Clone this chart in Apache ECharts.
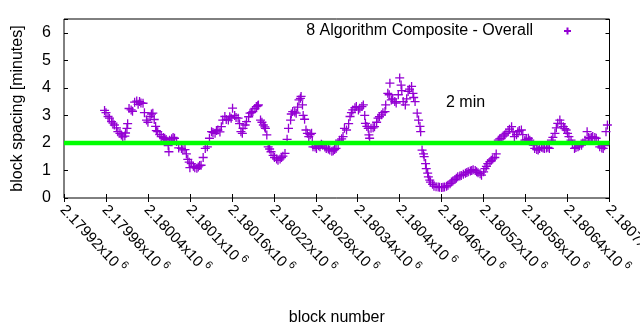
<!DOCTYPE html>
<html>
<head>
<meta charset="utf-8">
<script src="https://cdn.jsdelivr.net/npm/echarts@6/dist/echarts.min.js"></script>
<style>
html,body{margin:0;padding:0;background:#fff;}
#chart{width:640px;height:330px;}
</style>
</head>
<body>
<div id="chart"></div>
<script>
// ---- data ----
const seriesName = '8 Algorithm Composite - Overall';
const blocks = [
2179978,2179980,2179983,2179985,2179988,2179990,2179992,2179995,2179997,2180000,
2180002,2180004,2180007,2180008,2180010,2180011,2180013,2180016,2180018,2180021,
2180024,2180026,2180028,2180030,2180033,2180035,2180038,2180040,2180043,2180045,
2180047,2180049,2180051,2180052,2180054,2180057,2180059,2180062,2180064,2180066,
2180069,2180070,2180071,2180074,2180076,2180078,2180081,2180084,2180088,2180090,
2180093,2180095,2180097,2180099,2180100,2180102,2180105,2180107,2180110,2180112,
2180114,2180116,2180119,2180122,2180125,2180128,2180131,2180133,2180136,2180138,
2180140,2180143,2180145,2180147,2180150,2180152,2180155,2180157,2180159,2180161,
2180164,2180166,2180169,2180171,2180173,2180175,2180176,2180179,2180181,2180184,
2180186,2180188,2180190,2180193,2180195,2180197,2180198,2180201,2180203,2180205,
2180207,2180208,2180210,2180212,2180214,2180216,2180219,2180221,2180224,2180226,
2180229,2180231,2180233,2180236,2180239,2180241,2180244,2180245,2180247,2180250,
2180252,2180254,2180256,2180258,2180259,2180261,2180262,2180264,2180266,2180268,
2180270,2180272,2180274,2180275,2180276,2180279,2180281,2180284,2180286,2180288,
2180290,2180293,2180295,2180298,2180300,2180303,2180305,2180307,2180309,2180312,
2180314,2180317,2180319,2180321,2180324,2180327,2180329,2180331,2180333,2180336,
2180338,2180341,2180343,2180346,2180348,2180350,2180351,2180353,2180355,2180356,
2180357,2180359,2180362,2180364,2180367,2180369,2180371,2180374,2180376,2180379,
2180380,2180383,2180385,2180386,2180388,2180390,2180393,2180395,2180398,2180400,
2180402,2180403,2180405,2180408,2180410,2180412,2180414,2180417,2180419,2180420,
2180422,2180425,2180427,2180429,2180430,2180432,2180434,2180435,2180437,2180438,
2180440,2180441,2180443,2180444,2180447,2180449,2180452,2180455,2180457,2180460,
2180462,2180464,2180467,2180469,2180472,2180474,2180476,2180479,2180481,2180483,
2180486,2180488,2180491,2180494,2180496,2180498,2180501,2180503,2180505,2180508,
2180510,2180512,2180515,2180517,2180520,2180522,2180524,2180526,2180529,2180531,
2180533,2180536,2180538,2180541,2180543,2180545,2180548,2180550,2180552,2180555,
2180557,2180560,2180562,2180564,2180567,2180569,2180571,2180574,2180576,2180579,
2180581,2180584,2180586,2180588,2180591,2180593,2180596,2180598,2180600,2180603,
2180605,2180607,2180610,2180612,2180614,2180617,2180619,2180622,2180624,2180626,
2180629,2180631,2180634,2180636,2180638,2180640,2180642,2180645,2180647,2180650,
2180652,2180655,2180657,2180660,2180662,2180665,2180668,2180670,2180672,2180674,
2180676,2180679,2180681,2180684,2180686,2180689,2180691,2180693,2180695,2180697
];
const spacing = [
3.18,3.10,2.96,2.90,2.77,2.72,2.65,2.55,2.41,2.35,
2.29,2.22,2.25,2.36,2.53,2.70,3.25,3.20,3.15,3.48,
3.52,3.40,3.50,3.45,3.44,3.10,2.83,2.75,2.96,3.05,
3.08,2.85,2.60,2.45,2.41,2.30,2.23,2.20,2.17,2.12,
1.90,1.68,2.10,2.15,2.20,2.17,2.05,1.82,1.80,1.75,
1.76,1.60,1.40,1.30,1.10,1.25,1.15,1.10,1.08,1.13,
1.18,1.19,1.47,1.80,1.86,2.17,2.41,2.38,2.35,2.45,
2.47,2.40,2.59,2.83,2.96,2.85,2.83,2.95,2.90,3.26,
3.00,2.92,2.90,2.70,2.41,2.35,2.53,2.65,2.77,2.95,
3.08,3.10,3.14,3.25,3.32,3.35,3.38,2.83,2.75,2.65,
2.58,2.53,2.29,1.86,1.78,1.68,1.55,1.47,1.42,1.37,
1.42,1.47,1.52,1.62,2.13,2.53,2.83,3.05,3.14,3.12,
3.08,3.30,3.56,3.62,3.69,3.38,3.00,2.86,2.47,2.35,
2.23,2.30,2.35,2.05,1.86,1.85,1.80,1.90,1.86,1.95,
1.92,1.85,1.80,1.78,1.74,1.70,1.72,1.76,1.80,1.95,
2.10,2.15,2.23,2.53,2.47,2.70,2.96,3.10,3.20,3.28,
3.32,3.20,3.26,3.32,3.38,3.00,2.71,2.60,2.53,2.29,
2.17,2.53,2.55,2.59,2.75,2.90,2.95,3.02,3.10,3.14,
3.38,3.80,3.75,4.17,3.56,3.60,3.50,3.45,3.75,4.36,
4.10,3.90,3.50,3.38,3.60,3.87,3.95,4.05,3.80,3.65,
3.50,3.08,2.83,2.60,2.41,1.74,1.60,1.50,1.25,1.07,
0.90,0.77,0.65,0.58,0.50,0.43,0.41,0.40,0.39,0.38,
0.39,0.40,0.43,0.46,0.52,0.58,0.62,0.67,0.72,0.77,
0.80,0.82,0.86,0.90,0.93,0.95,0.98,1.00,1.03,1.00,
0.95,0.92,0.88,0.83,0.95,1.07,1.15,1.25,1.32,1.37,
1.42,1.47,1.60,2.10,2.15,2.17,2.25,2.29,2.35,2.41,
2.50,2.59,2.40,2.23,2.30,2.41,2.45,2.47,2.30,2.10,
2.12,2.17,2.10,2.05,1.92,1.80,1.76,1.74,1.80,1.84,
1.82,1.80,1.82,1.84,1.80,2.10,2.20,2.35,2.55,2.71,
2.83,2.70,2.59,2.52,2.47,2.35,2.23,2.10,1.95,1.80,
1.83,1.86,1.90,1.92,2.00,2.10,2.41,2.20,2.17,2.20,
2.23,2.20,2.17,2.00,1.86,1.82,1.80,1.90,2.41,2.65
];
const refBlocks = [2179920, 2180700];
const refSpacing = [2, 2];
const refLabel = '2 min';
const xMin = 2179920, xMax = 2180700, xStep = 60;
const yMin = 0, yMax = 6.5, yStep = 1;
const xTitle = 'block number';
const yTitle = 'block spacing [minutes]';

// ---- chart ----
const FONT = 'Liberation Sans';
const plus = 'path://M0,5L10,5M5,0L5,10';
const chart = echarts.init(document.getElementById('chart'), null, {renderer: 'canvas'});
const pts = blocks.map((b, i) => [b, spacing[i]]);
const refPts = refBlocks.map((b, i) => [b, refSpacing[i]]);

const gridL = 64, gridT = 19, gridW = 545.5, gridH = 179;

chart.setOption({
  animation: false,
  backgroundColor: '#fff',
  textStyle: {fontFamily: FONT, color: '#000'},
  grid: {left: gridL, top: gridT, width: gridW, height: gridH, show: true,
         containLabel: false, outerBoundsMode: 'none',
         borderColor: '#000', borderWidth: 1, backgroundColor: 'transparent'},
  legend: {
    data: [{name: seriesName, icon: plus}],
    right: 68, top: 23, padding: 0, align: 'right',
    itemWidth: 59, itemHeight: 7,
    textStyle: {fontFamily: FONT, fontSize: 16, color: '#000'},
    selectedMode: false
  },
  graphic: [{
    type: 'text', left: 446, top: 95,
    style: {text: refLabel, font: '16px "Liberation Sans"', fill: '#000'}
  }],
  xAxis: [{
    type: 'value', min: xMin, max: xMax, interval: xStep,
    name: xTitle, nameLocation: 'middle', nameGap: 112,
    nameTextStyle: {fontFamily: FONT, fontSize: 16, color: '#000'},
    axisLine: {show: false},
    axisTick: {inside: true, length: 4, lineStyle: {color: '#000'}},
    splitLine: {show: false},
    axisLabel: {
      rotate: -47, margin: 8, color: '#000', hideOverlap: false,
      showMinLabel: true, showMaxLabel: true,
      formatter: v => '{a|' + parseFloat((v / 1e6).toFixed(5)) + 'x10}{s|6}',
      rich: {
        a: {fontFamily: FONT, fontSize: 15, color: '#000', lineHeight: 19, verticalAlign: 'bottom'},
        s: {fontFamily: FONT, fontSize: 11, color: '#000', verticalAlign: 'top', padding: [0, 0, 0, 3]}
      }
    }
  }, {
    type: 'value', position: 'top', min: xMin, max: xMax, interval: xStep,
    axisLine: {show: false}, axisLabel: {show: false}, splitLine: {show: false},
    axisTick: {inside: true, length: 4, lineStyle: {color: '#000'}}
  }],
  yAxis: [{
    type: 'value', min: yMin, max: yMax, interval: yStep,
    name: yTitle, nameLocation: 'middle', nameGap: 38,
    nameTextStyle: {fontFamily: FONT, fontSize: 16, color: '#000'},
    axisLine: {show: false},
    axisTick: {inside: true, length: 4, lineStyle: {color: '#000'}},
    splitLine: {show: false},
    axisLabel: {margin: 13, fontFamily: FONT, fontSize: 16, color: '#000',
                formatter: v => Number.isInteger(v) ? String(v) : ''}
  }, {
    type: 'value', position: 'right', min: yMin, max: yMax, interval: yStep,
    axisLine: {show: false}, axisLabel: {show: false}, splitLine: {show: false},
    axisTick: {inside: true, length: 4, lineStyle: {color: '#000'}}
  }],
  series: [{
    name: seriesName, type: 'scatter', data: pts,
    symbol: plus, symbolSize: 9,
    itemStyle: {color: 'rgba(0,0,0,0)', borderColor: '#9400d3', borderWidth: 1.3, opacity: 1},
    emphasis: {disabled: true}, z: 2
  }, {
    name: 'ref', type: 'line', data: refPts, symbol: 'none',
    lineStyle: {color: '#00ff00', width: 4.5}, z: 3, silent: true
  }]
});
</script>
</body>
</html>
